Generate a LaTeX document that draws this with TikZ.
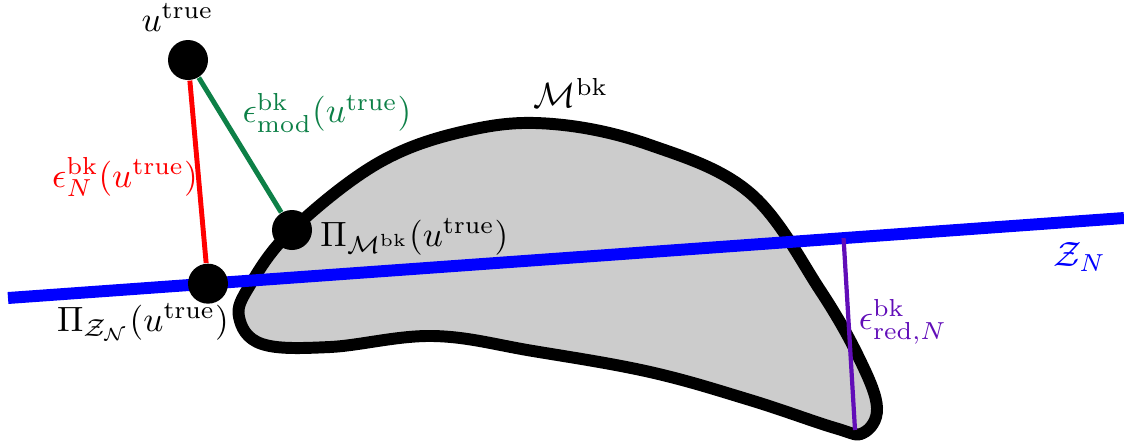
\documentclass[tikz,border=0pt]{standalone}
\usepackage{amsmath}
\usepackage{xcolor}
\usetikzlibrary{positioning, calc}

\definecolor{errgreen}{rgb}{0.05,0.5,0.28}
\definecolor{errpurple}{rgb}{0.38,0.05,0.72}

\begin{document}
\begin{tikzpicture}[
  dot/.style={circle, fill=black, inner sep=0pt, minimum size=0.4cm},
  manifold/.style={draw=black, fill=black!20, line width=3.4pt},
  space/.style={draw=blue, line width=3.4pt},
  err/.style={line width=1.4pt},
  lab/.style={inner sep=1pt},
]
\useasboundingbox (0,0) rectangle (11.24,4.44);
% ---- the manifold ----
\draw[manifold] plot[smooth cycle, tension=0.62] coordinates {
  (2.50,1.59) (2.92,2.14) (3.80,2.82) (4.70,3.14) (5.53,3.20) (6.50,2.99)
  (7.50,2.51) (8.20,1.54) (8.60,0.84) (8.77,0.36) (8.63,0.11) (8.35,0.16)
  (7.50,0.44) (6.50,0.72) (5.33,0.93) (4.33,1.08) (3.30,0.97) (2.62,1.00)
  (2.39,1.27)};
% ---- the reduced space ----
\coordinate (zl) at (0.08,1.46);
\coordinate (zr) at (11.24,2.26);
\draw[space] (zl) -- (zr);
% ---- reduction error ----
\coordinate (rtop) at ($(zl)!0.7487!(zr)$);
\coordinate (rbot) at (8.55,0.14);
\draw[err, errpurple, line width=1.2pt] (rtop) -- (rbot);
% ---- points ----
\node[dot] (u) at (1.88,3.84) {};
\node[dot] (pim) at (2.92,2.14) {};
\node[dot] (piz) at ($(zl)!0.1792!(zr)$) {};
% ---- connectors ----
\draw[err, red] (u) -- (piz);
\draw[err, errgreen] (u) -- (pim);
% ---- labels ----
\node[lab, above=1pt of u, xshift=-3pt] (ulab) {$u^{\mathrm{true}}$};
\node[lab, errgreen] (modlab) at (3.27,3.31)
  {$\epsilon^{\mathrm{bk}}_{\mathrm{mod}}(u^{\mathrm{true}})$};
\node[lab, red] (nlab) at (1.25,2.67)
  {$\epsilon^{\mathrm{bk}}_{N}(u^{\mathrm{true}})$};
\node[lab, right=1pt of pim, yshift=-2pt] (pimlab)
  {$\Pi_{\mathcal{M}^{\mathrm{bk}}}(u^{\mathrm{true}})$};
\node[lab] (pizlab) at (1.43,1.22)
  {$\Pi_{\mathcal{Z}_{\mathcal{N}}}(u^{\mathrm{true}})$};
\node[lab] (mlab) at (5.71,3.51) {$\mathcal{M}^{\mathrm{bk}}$};
\node[lab, blue] (zlab) at (10.80,1.87) {$\mathcal{Z}_N$};
\node[lab, errpurple] (redlab) at (9.03,1.22)
  {$\epsilon^{\mathrm{bk}}_{\mathrm{red},N}$};
\end{tikzpicture}
\end{document}
